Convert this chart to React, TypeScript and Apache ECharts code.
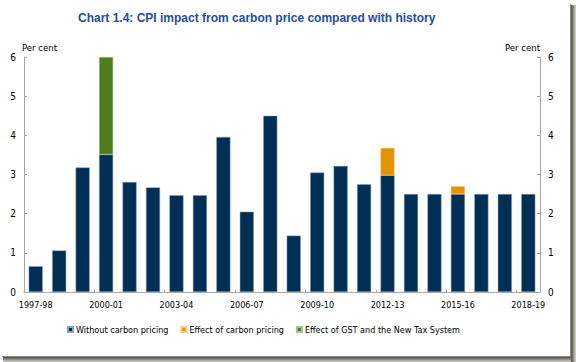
import React, { useEffect, useRef } from "react";
import * as echarts from "echarts";

const categories = [
  "1997-98", "1998-99", "1999-00", "2000-01", "2001-02", "2002-03", "2003-04", "2004-05",
  "2005-06", "2006-07", "2007-08", "2008-09", "2009-10", "2010-11", "2011-12", "2012-13",
  "2013-14", "2014-15", "2015-16", "2016-17", "2017-18", "2018-19",
];
const withoutCarbon = [0.66, 1.06, 3.18, 3.51, 2.81, 2.67, 2.47, 2.47, 3.96, 2.05, 4.5, 1.44, 3.05, 3.22, 2.75, 2.98, 2.5, 2.5, 2.5, 2.5, 2.5, 2.5];
const carbonEffect = [null, null, null, null, null, null, null, null, null, null, null, null, null, null, null, 0.7, null, null, 0.2, null, null, null];
const gstEffect = [null, null, null, 2.49, null, null, null, null, null, null, null, null, null, null, null, null, null, null, null, null, null, null];
const yTicks = [0, 1, 2, 3, 4, 5, 6];

const NARROW = "'DejaVu Sans Condensed', 'Liberation Sans Narrow', 'Liberation Sans', Arial, sans-serif";

export default function App() {
  const ref = useRef<HTMLDivElement>(null);
  useEffect(() => {
    if (!ref.current) return;
    const chart = echarts.init(ref.current, null, { renderer: "svg" });
    const axisLine = { show: true, lineStyle: { color: "#a6a6a6", width: 1 } };
    const yAxisBase = {
      type: "value" as const,
      min: yTicks[0],
      max: yTicks[yTicks.length - 1],
      interval: 1,
      axisLine,
      axisTick: { show: true, inside: true, length: 3, lineStyle: { color: "#a6a6a6" } },
      splitLine: { show: false },
      axisLabel: { color: "#000", fontFamily: NARROW, fontSize: 10, margin: 8 },
    };
    chart.setOption({
      animation: false,
      backgroundColor: "#ffffff",
      title: {
        text: "Chart 1.4: CPI impact from carbon price compared with history",
        left: 73,
        top: 7,
        textStyle: { color: "#1f4e9c", fontSize: 12, fontWeight: "bold", fontFamily: "'Liberation Sans', Arial, sans-serif" },
      },
      grid: { left: 24, right: 36, top: 57, bottom: 70, containLabel: false },
      legend: {
        left: 62,
        top: 320,
        itemWidth: 5,
        itemHeight: 5,
        itemGap: 12,
        icon: "rect",
        textStyle: { color: "#000", fontFamily: NARROW, fontSize: 9, padding: [0, 0, 0, -2] },
        data: ["Without carbon pricing", "Effect of carbon pricing", "Effect of GST and the New Tax System"],
      },
      xAxis: {
        type: "category",
        data: categories,
        boundaryGap: true,
        axisLine,
        axisTick: { show: true, inside: true, length: 2, interval: 2, lineStyle: { color: "#a6a6a6" } },
        axisLabel: { interval: 2, color: "#000", fontFamily: NARROW, fontSize: 9, margin: 8 },
      },
      yAxis: [
        { ...yAxisBase, position: "left" },
        { ...yAxisBase, position: "right" },
      ],
      series: [
        {
          name: "Without carbon pricing",
          type: "bar",
          stack: "cpi",
          data: withoutCarbon,
          barWidth: "60%",
          itemStyle: { color: "#002f56", borderColor: "#8fa3b8", borderWidth: 0.5 },
        },
        {
          name: "Effect of carbon pricing",
          type: "bar",
          stack: "cpi",
          data: carbonEffect,
          barWidth: "60%",
          itemStyle: { color: "#e39400", borderColor: "#f3cc80", borderWidth: 0.5 },
        },
        {
          name: "Effect of GST and the New Tax System",
          type: "bar",
          stack: "cpi",
          data: gstEffect,
          barWidth: "60%",
          itemStyle: { color: "#4f7f1c", borderColor: "#a8c090", borderWidth: 0.5 },
        },
      ],
      graphic: [
        { type: "text", left: 22, top: 42, style: { text: "Per cent", fill: "#000", font: `9.5px ${NARROW}` } },
        { type: "text", right: 36, top: 42, style: { text: "Per cent", fill: "#000", font: `9.5px ${NARROW}` } },
        { type: "rect", shape: { x: 570, y: 4, width: 1, height: 353 }, style: { fill: "#8a8a8a" } },
        {
          type: "rect",
          shape: { x: 571, y: 5, width: 5, height: 357 },
          style: {
            fill: new echarts.graphic.LinearGradient(0, 0, 1, 0, [
              { offset: 0, color: "#4a4a3c" },
              { offset: 1, color: "#d8d8d0" },
            ]),
          },
        },
        { type: "rect", shape: { x: 2, y: 356, width: 569, height: 1 }, style: { fill: "#8a8a8a" } },
        {
          type: "rect",
          shape: { x: 3, y: 357, width: 568, height: 5 },
          style: {
            fill: new echarts.graphic.LinearGradient(0, 0, 0, 1, [
              { offset: 0, color: "#4a4a3c" },
              { offset: 1, color: "#d8d8d0" },
            ]),
          },
        },
      ],
    });
    return () => chart.dispose();
  }, []);
  return (
    <div
      ref={ref}
      style={{ position: "fixed", left: 0, top: 0, width: 576, height: 362 }}
    />
  );
}
